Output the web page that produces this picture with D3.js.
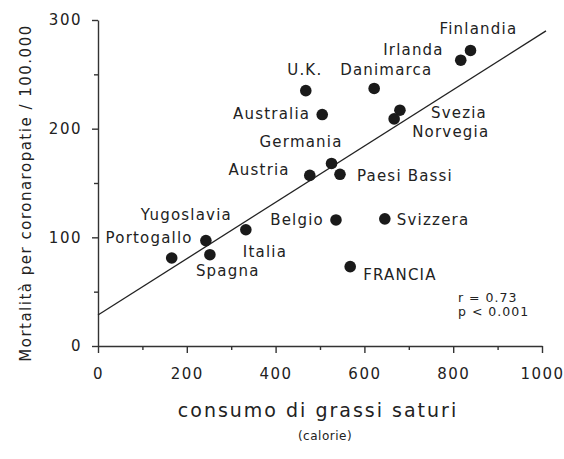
<!DOCTYPE html>
<html lang="it">
    <head>
        <meta charset="utf-8">
        <title>Mortalità e grassi saturi</title>
        <script src="https://d3js.org/d3.v7.min.js"></script>
        <style type="text/css">
            body { margin: 0; background: #fff; }
            svg { display: block; }
            text { font-family: "DejaVu Sans", sans-serif; fill: #222; }
            .tick text { font-size: 15px; letter-spacing: 1.5px; }
            .lab { font-size: 15px; letter-spacing: 1.2px; }
        </style>
    </head>
    <body>
        <svg width="564" height="459"></svg>
        <script type="text/javascript">

            // paesi, consumo di grassi saturi (calorie) e mortalità / 100.000
            const countries = ["Portogallo", "Yugoslavia", "Spagna", "Italia", "Austria", "Germania",
                               "Paesi  Bassi", "Belgio", "Svizzera", "FRANCIA", "Finlandia", "Irlanda",
                               "U.K.", "Danimarca", "Australia", "Svezia", "Norvegia"];
            const fat       = [166, 243, 252, 333, 477, 526, 545, 536, 646, 568, 839, 817, 468, 622, 505, 680, 667];
            const mortality = [81, 97, 84, 107, 157, 168, 158, 116, 117, 73, 272, 263, 235, 237, 213, 217, 209];

            // retta di regressione
            const fitLine = [[0, 28.5], [1009, 290]];
            const statsText = ["r = 0.73", "p < 0.001"];

            const xTicks = [0, 200, 400, 600, 800, 1000];
            const yTicks = [0, 100, 200, 300];

            // where each label sits relative to its dot
            const labelPos = {
                "Portogallo": [21, -15, "end"],
                "Yugoslavia": [26, -21, "end"],
                "Spagna": [-14, 21, "start"],
                "Italia": [-3, 27, "start"],
                "Austria": [-20, 0, "end"],
                "Germania": [-72, -16, "start"],
                "Paesi  Bassi": [17, 7, "start"],
                "Belgio": [-12, 5, "end"],
                "Svizzera": [12, 6, "start"],
                "FRANCIA": [13, 13, "start"],
                "Finlandia": [-31, -16, "start"],
                "Irlanda": [-17, -5, "end"],
                "U.K.": [-1, -16, "middle"],
                "Danimarca": [-34, -13, "start"],
                "Australia": [-12, 4, "end"],
                "Svezia": [31, 8, "start"],
                "Norvegia": [18, 18, "start"]
            };

            const svg = d3.select("svg");
            const data = countries.map((c, i) => ({name: c, x: fat[i], y: mortality[i]}));

            const x = d3.scaleLinear().domain([0, 1000]).range([98, 542]);
            const y = d3.scaleLinear().domain([0, 300]).range([346, 20]);

            // minor ticks first
            svg.append("g")
               .attr("transform", "translate(0,346)")
               .call(d3.axisBottom(x).tickValues(d3.range(100, 1000, 200)).tickSize(4).tickSizeOuter(0).tickFormat(""))
               .call(g => g.select(".domain").remove());
            svg.append("g")
               .attr("transform", "translate(98,0)")
               .call(d3.axisLeft(y).tickValues([50, 150, 250]).tickSize(4).tickSizeOuter(0).tickFormat(""))
               .call(g => g.select(".domain").remove());

            const xAxis = svg.append("g")
               .attr("transform", "translate(0,346)")
               .call(d3.axisBottom(x).tickValues(xTicks).tickSize(7).tickSizeOuter(0).tickPadding(15).tickFormat(d3.format("d")));
            const yAxis = svg.append("g")
               .attr("transform", "translate(98,0)")
               .call(d3.axisLeft(y).tickValues(yTicks).tickSize(6).tickSizeOuter(0).tickPadding(10).tickFormat(d3.format("d")));

            svg.selectAll(".domain, .tick line").attr("stroke", "#333").attr("stroke-width", 1.4);
            svg.selectAll(".tick text").attr("font-family", null).attr("font-size", null).style("fill", "#222");

            // regression line
            svg.append("line")
               .attr("x1", x(fitLine[0][0])).attr("y1", y(fitLine[0][1]))
               .attr("x2", x(fitLine[1][0])).attr("y2", y(fitLine[1][1]))
               .attr("stroke", "#222")
               .attr("stroke-width", 1.3);

            svg.selectAll("circle")
               .data(data)
               .enter()
               .append("circle")
               .attr("cx", d => x(d.x))
               .attr("cy", d => y(d.y))
               .attr("r", 5.8)
               .style("fill", "#1a1a1a");

            svg.selectAll("text.lab")
               .data(data)
               .enter()
               .append("text")
               .attr("class", "lab")
               .attr("x", d => x(d.x) + labelPos[d.name][0])
               .attr("y", d => y(d.y) + labelPos[d.name][1])
               .attr("text-anchor", d => labelPos[d.name][2])
               .text(d => d.name);

            svg.selectAll("text.stat")
               .data(statsText)
               .enter()
               .append("text")
               .attr("class", "stat")
               .attr("x", 458)
               .attr("y", (d, i) => 302 + i * 14)
               .style("font-size", "12.5px")
               .style("letter-spacing", "1px")
               .text(d => d);

            // axis titles
            svg.append("text")
               .attr("x", 318)
               .attr("y", 417)
               .attr("text-anchor", "middle")
               .style("font-size", "19px")
               .style("letter-spacing", "2px")
               .text("consumo di grassi saturi");
            svg.append("text")
               .attr("x", 325)
               .attr("y", 440)
               .attr("text-anchor", "middle")
               .style("font-size", "12px")
               .style("letter-spacing", "0.5px")
               .text("(calorie)");
            svg.append("text")
               .attr("transform", "translate(31,193) rotate(-90)")
               .attr("text-anchor", "middle")
               .style("font-size", "15px")
               .style("letter-spacing", "1.5px")
               .text("Mortalità per coronaropatie / 100.000");

        </script>
    </body>
</html>
